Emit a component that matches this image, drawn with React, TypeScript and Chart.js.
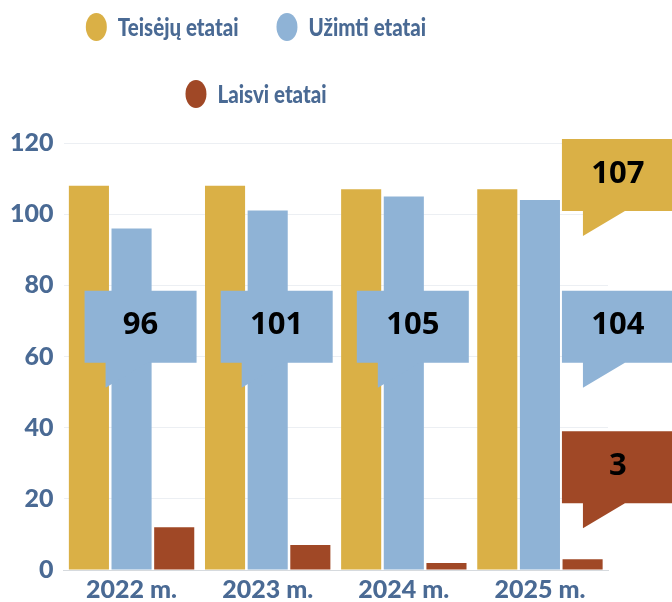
import React, { useEffect, useRef } from 'react';
import { Chart, registerables } from 'chart.js';

Chart.register(...registerables);

const categories = ['2022 m.', '2023 m.', '2024 m.', '2025 m.'];
const seriesNames = ['Teisėjų etatai', 'Užimti etatai', 'Laisvi etatai'];
const teiseju = [108, 108, 107, 107];
const uzimti = [96, 101, 105, 104];
const laisvi = [12, 7, 2, 3];
const yTicks = [0, 20, 40, 60, 80, 100, 120];
const seriesColors = ['#DAB046', '#8FB3D6', '#A04826'];
// which values carry a callout label: [datasetIndex, categoryIndex]
const callouts: [number, number][] = [[1, 0], [1, 1], [1, 2], [0, 3], [1, 3], [2, 3]];

const TEXT_COLOR = '#4A6A94';
const FONT = 'Lato';

const legendPlugin = {
  id: 'customLegend',
  afterDraw(chart: any) {
    const ctx = chart.ctx;
    const ds = chart.data.datasets;
    const rows = [[0, 1], [2]];
    const rowY = [27, 94];
    const centerX = 256;
    const sx = 0.82;
    ctx.save();
    ctx.font = `900 25px ${FONT}`;
    ctx.textBaseline = 'middle';
    rows.forEach((row, r) => {
      const items = row.map((i) => ({ i, w: 21 + 11 + ctx.measureText(ds[i].label).width * sx }));
      const total = items.reduce((s, it) => s + it.w, 0) + 38 * (items.length - 1);
      let x = centerX - total / 2;
      items.forEach((it) => {
        ctx.fillStyle = ds[it.i].backgroundColor;
        ctx.beginPath();
        ctx.ellipse(x + 10.5, rowY[r], 10.5, 14, 0, 0, Math.PI * 2);
        ctx.fill();
        ctx.fillStyle = TEXT_COLOR;
        ctx.textAlign = 'left';
        ctx.save();
        ctx.translate(x + 32, rowY[r] + 1);
        ctx.scale(sx, 1);
        ctx.fillText(ds[it.i].label, 0, 0);
        ctx.restore();
        x += it.w + 38;
      });
    });
    ctx.restore();
  },
};

const calloutPlugin = {
  id: 'callouts',
  afterDatasetsDraw(chart: any) {
    const ctx = chart.ctx;
    const yScale = chart.scales.y;
    const xScale = chart.scales.x;
    const topValue = [121.1, 78.5, 39];
    const w = 112;
    const h = 72;
    ctx.save();
    callouts.forEach(([d, i]) => {
      const bar = chart.getDatasetMeta(d).data[i];
      const last = i === categories.length - 1;
      const left = last ? xScale.getPixelForValue(i) + 22 : bar.x + 9 - w / 2;
      const top = yScale.getPixelForValue(topValue[d]);
      ctx.fillStyle = chart.data.datasets[d].backgroundColor;
      ctx.beginPath();
      ctx.moveTo(left, top);
      ctx.lineTo(left + w, top);
      ctx.lineTo(left + w, top + h);
      ctx.lineTo(left + 63, top + h);
      ctx.lineTo(left + 21, top + h + 25);
      ctx.lineTo(left + 21, top + h);
      ctx.lineTo(left, top + h);
      ctx.closePath();
      ctx.fill();
      ctx.fillStyle = '#000000';
      ctx.font = 'bold 31px "Open Sans"';
      ctx.textAlign = 'center';
      ctx.textBaseline = 'middle';
      ctx.fillText(String(chart.data.datasets[d].data[i]), left + w / 2, top + h / 2 - 1);
    });
    ctx.restore();
  },
};

export default function App() {
  const ref = useRef<HTMLCanvasElement | null>(null);

  useEffect(() => {
    document.body.style.margin = '0';
    const canvas = ref.current!;
    const series = [teiseju, uzimti, laisvi];
    const chart = new Chart(canvas, {
      type: 'bar',
      data: {
        labels: categories,
        datasets: series.map((data, k) => ({
          label: seriesNames[k],
          data,
          backgroundColor: seriesColors[k],
          borderWidth: 0,
          barPercentage: 0.94,
          categoryPercentage: 0.94,
        })),
      },
      options: {
        animation: false,
        responsive: true,
        maintainAspectRatio: false,
        layout: { padding: { top: 143, right: 64, left: 0, bottom: -8 } },
        plugins: {
          legend: { display: false },
          tooltip: { enabled: false },
        },
        scales: {
          x: {
            grid: { display: false, drawTicks: false },
            border: { display: true, color: '#d6dade', width: 1 },
            ticks: {
              color: TEXT_COLOR,
              font: { family: FONT, weight: '900', size: 25 },
              padding: 5,
            },
          },
          y: {
            min: 0,
            max: 120,
            afterBuildTicks: (axis: any) => {
              axis.ticks = yTicks.map((v) => ({ value: v }));
            },
            grid: { color: '#eceff3', drawTicks: false },
            border: { display: false },
            ticks: {
              color: TEXT_COLOR,
              font: { family: FONT, weight: '900', size: 25 },
              padding: 10,
            },
          },
        },
      },
      plugins: [calloutPlugin, legendPlugin],
    });
    return () => chart.destroy();
  }, []);

  return (
    <div style={{ width: 672, height: 602, position: 'relative', background: '#ffffff' }}>
      <canvas ref={ref} />
    </div>
  );
}
